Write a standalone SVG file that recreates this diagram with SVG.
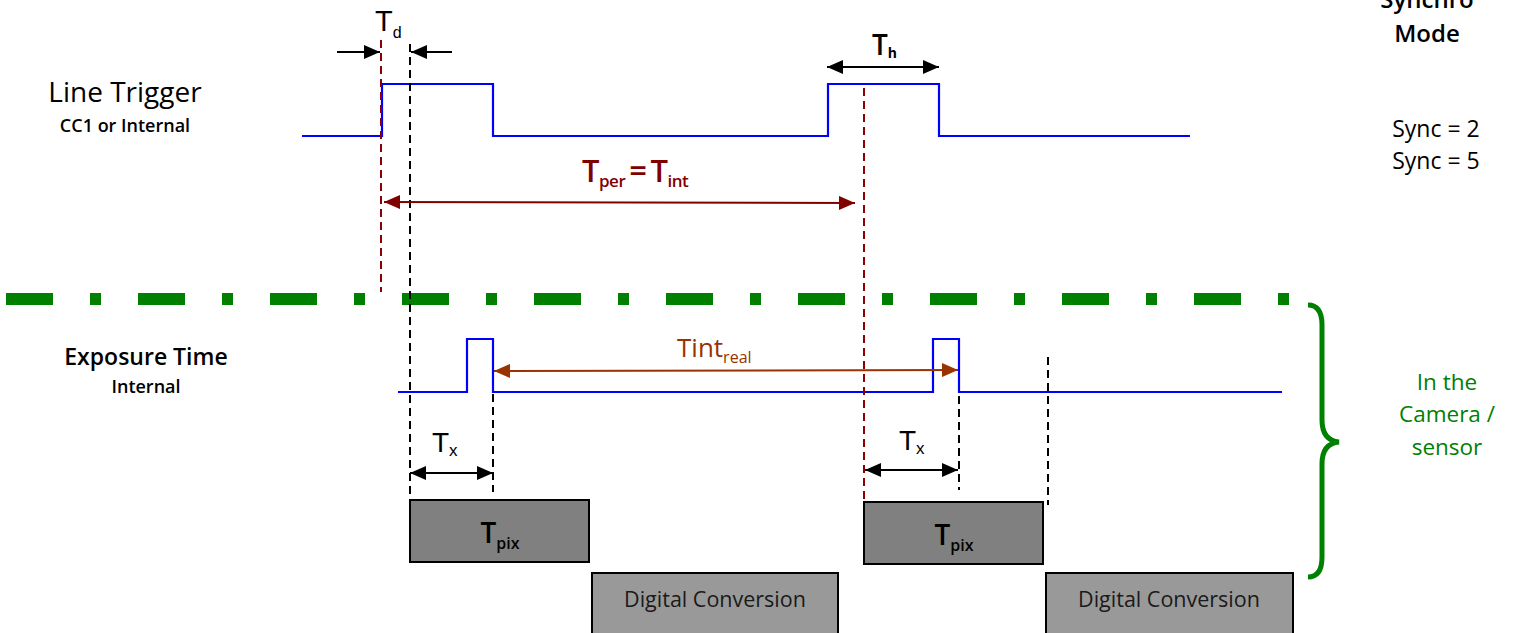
<svg xmlns="http://www.w3.org/2000/svg" width="1515" height="633" viewBox="0 0 1515 633">
<style>
.lbl{font-family:"Open Sans","Noto Sans",sans-serif;fill:#000}
.ar{font-family:"Liberation Sans",Arial,sans-serif;fill:#000}
.sig{fill:none;stroke:#0000ff;stroke-width:2.2}
.dk{fill:none;stroke:#000;stroke-width:2;stroke-dasharray:8 5}
.dr{fill:none;stroke:#8b0000;stroke-width:2;stroke-dasharray:8 5}
.arr{fill:none;stroke:#000;stroke-width:2}
.box{stroke:#000;stroke-width:2}
</style>
<defs>
<marker id="ah" viewBox="0 0 16 14" refX="16" refY="7" markerWidth="16" markerHeight="14" markerUnits="userSpaceOnUse" orient="auto-start-reverse"><path d="M0,0 L16,7 L0,14 Z" fill="#000"/></marker>
<marker id="ahr" viewBox="0 0 16 14" refX="16" refY="7" markerWidth="16" markerHeight="14" markerUnits="userSpaceOnUse" orient="auto-start-reverse"><path d="M0,0 L16,7 L0,14 Z" fill="#800000"/></marker>
<marker id="ahb" viewBox="0 0 16 14" refX="16" refY="7" markerWidth="16" markerHeight="14" markerUnits="userSpaceOnUse" orient="auto-start-reverse"><path d="M0,0 L16,7 L0,14 Z" fill="#993300"/></marker>
</defs>
<rect width="1515" height="633" fill="#fff"/>

<g id="mode-header">
<text class="lbl" x="1427" y="8" font-size="24" font-weight="600" text-anchor="middle">Synchro</text>
<text class="lbl" x="1427" y="42" font-size="24" font-weight="600" text-anchor="middle">Mode</text>
<text class="lbl" x="1436" y="137" font-size="23" text-anchor="middle">Sync = 2</text>
<text class="lbl" x="1436" y="169" font-size="23" text-anchor="middle">Sync = 5</text>
</g>

<g id="line-trigger-label">
<text class="lbl" x="125" y="102" font-size="28" font-weight="500" text-anchor="middle">Line Trigger</text>
<text class="lbl" x="125" y="132" font-size="18" font-weight="600" text-anchor="middle">CC1 or Internal</text>
</g>

<g id="exposure-label">
<text class="lbl" x="146" y="365" font-size="23" font-weight="600" text-anchor="middle">Exposure Time</text>
<text class="lbl" x="146" y="393" font-size="18" font-weight="600" text-anchor="middle">Internal</text>
</g>

<g id="separator">
<line x1="6" y1="299" x2="1300" y2="299" stroke="#008000" stroke-width="12" stroke-dasharray="47 37 11 37"/>
</g>

<g id="line-trigger-signal">
<polyline class="sig" points="302,136 382,136 382,84 493,84 493,136 828,136 828,84 939,84 939,136 1190,136"/>
</g>

<g id="exposure-signal">
<polyline class="sig" points="398,392 467,392 467,339 493,339 493,392 933,392 933,339 959,339 959,392 1282,392"/>
</g>

<g id="connectors">
<line class="dr" x1="381" y1="40" x2="381" y2="292"/>
<line class="dk" x1="410" y1="44" x2="410" y2="500"/>
<line class="dr" x1="864" y1="88" x2="864" y2="566"/>
<line class="dk" x1="493" y1="394" x2="493" y2="492"/>
<line class="dk" x1="959" y1="396" x2="959" y2="490"/>
<line class="dk" x1="1048" y1="357" x2="1048" y2="505"/>
<line class="arr" x1="337" y1="52" x2="380" y2="52" marker-end="url(#ah)"/>
<line class="arr" x1="452" y1="52" x2="411" y2="52" marker-end="url(#ah)"/>
<line class="arr" x1="827" y1="67" x2="939" y2="67" marker-start="url(#ah)" marker-end="url(#ah)"/>
<line x1="384" y1="202" x2="855" y2="203" stroke="#800000" stroke-width="2" marker-start="url(#ahr)" marker-end="url(#ahr)"/>
<line x1="494" y1="371" x2="958" y2="370" stroke="#993300" stroke-width="2" marker-start="url(#ahb)" marker-end="url(#ahb)"/>
<line class="arr" x1="410" y1="473" x2="493" y2="473" marker-start="url(#ah)" marker-end="url(#ah)"/>
<line class="arr" x1="865" y1="470" x2="958" y2="470" marker-start="url(#ah)" marker-end="url(#ah)"/>
</g>

<g id="td-label"><text class="ar" x="375" y="31" font-size="29">T<tspan font-size="16" dy="7">d</tspan></text></g>
<g id="th-label"><text class="lbl" x="872" y="55" font-size="28" font-weight="600">T<tspan font-size="14" font-weight="700" dy="3">h</tspan></text></g>
<g id="tper-label"><text class="lbl" x="582" y="182" font-size="31" font-weight="600" style="fill:#800000;letter-spacing:-0.5px">T<tspan font-size="17" dy="5">per</tspan><tspan dy="-5" dx="4">=</tspan><tspan dx="4">T</tspan><tspan font-size="17" dy="5">int</tspan></text></g>
<g id="tintreal-label"><text class="lbl" x="677" y="357" font-size="26" style="fill:#993300">Tint<tspan font-size="16" dy="6">real</tspan></text></g>
<g id="tx1-label"><text class="ar" x="432" y="452" font-size="28">T<tspan font-size="17" dy="4">x</tspan></text></g>
<g id="tx2-label"><text class="ar" x="899" y="450" font-size="28">T<tspan font-size="17" dy="4">x</tspan></text></g>

<g id="tpix-1">
<rect class="box" x="410" y="500" width="179" height="62" fill="#808080"/>
<text class="lbl" x="500" y="543" font-size="28" font-weight="600" text-anchor="middle">T<tspan font-size="16" dy="6">pix</tspan></text>
</g>
<g id="tpix-2">
<rect class="box" x="864" y="502" width="179" height="62" fill="#808080"/>
<text class="lbl" x="954" y="545" font-size="28" font-weight="600" text-anchor="middle">T<tspan font-size="16" dy="6">pix</tspan></text>
</g>
<g id="digital-conversion-1">
<rect class="box" x="592" y="573" width="246" height="64" fill="#999999"/>
<text class="lbl" x="715" y="607" font-size="21.5" text-anchor="middle" style="fill:#1a1a1a">Digital Conversion</text>
</g>
<g id="digital-conversion-2">
<rect class="box" x="1046" y="573" width="247" height="64" fill="#999999"/>
<text class="lbl" x="1169" y="607" font-size="21.5" text-anchor="middle" style="fill:#1a1a1a">Digital Conversion</text>
</g>

<g id="camera-brace">
<path d="M1308,305 C1318,305 1322,312 1322,325 L1322,420 C1322,434 1328,441 1339,442 C1328,443 1322,450 1322,464 L1322,557 C1322,570 1318,577 1308,577" fill="none" stroke="#008000" stroke-width="5"/>
<text class="lbl" x="1447" y="390" font-size="22.5" text-anchor="middle" style="fill:#008000">In the</text>
<text class="lbl" x="1447" y="422" font-size="22.5" text-anchor="middle" style="fill:#008000">Camera /</text>
<text class="lbl" x="1447" y="455" font-size="22.5" text-anchor="middle" style="fill:#008000">sensor</text>
</g>
</svg>
